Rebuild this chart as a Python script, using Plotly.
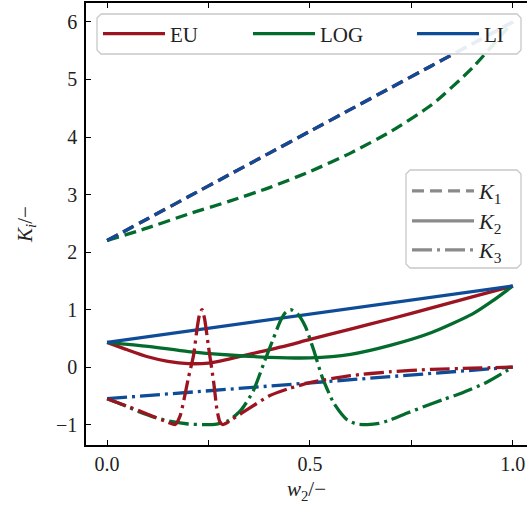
import plotly.graph_objects as go

# ---------------- data ----------------
# K1 (dashed)
x_k1 = [0.0, 0.1, 0.2, 0.3, 0.4, 0.5, 0.6, 0.7, 0.8, 0.9, 1.0]
eu_k1 = [2.2, 2.58, 2.96, 3.34, 3.72, 4.1, 4.48, 4.86, 5.24, 5.62, 6.0]
li_k1 = [2.2, 2.58, 2.96, 3.34, 3.72, 4.1, 4.48, 4.86, 5.24, 5.62, 6.0]
log_k1 = [2.2, 2.42, 2.66, 2.88, 3.12, 3.40, 3.72, 4.10, 4.56, 5.20, 6.0]

# K2 (solid)
x_eu_k2 = [0.0, 0.05, 0.1, 0.15, 0.2, 0.25, 0.3, 0.35, 0.43, 0.5, 0.6, 0.7, 0.8, 0.9, 1.0]
eu_k2 = [0.43, 0.30, 0.18, 0.10, 0.06, 0.07, 0.14, 0.22, 0.35, 0.48, 0.66, 0.84, 1.03, 1.22, 1.41]
x_log_k2 = [0.0, 0.1, 0.2, 0.3, 0.4, 0.5, 0.6, 0.7, 0.8, 0.9, 0.95, 1.0]
log_k2 = [0.43, 0.36, 0.27, 0.21, 0.17, 0.16, 0.22, 0.38, 0.60, 0.92, 1.15, 1.41]
x_li_k2 = [0.0, 1.0]
li_k2 = [0.43, 1.41]

# K3 (dash-dot)
x_eu_k3 = [0.0, 0.05, 0.1, 0.15, 0.168, 0.18, 0.19, 0.2, 0.213, 0.222, 0.228, 0.234,
           0.24, 0.25, 0.263, 0.271, 0.278, 0.285, 0.295, 0.31, 0.35, 0.4, 0.45,
           0.5, 0.6, 0.7, 0.8, 0.9, 1.0]
eu_k3 = [-0.55, -0.68, -0.82, -0.96, -1.0, -0.85, -0.55, -0.2, 0.2, 0.68, 0.92, 1.0,
         0.85, 0.35, -0.28, -0.75, -0.95, -1.0, -0.97, -0.9, -0.72, -0.5, -0.37,
         -0.27, -0.15, -0.08, -0.04, -0.02, 0.0]
x_log_k3 = [0.0, 0.04, 0.08, 0.12, 0.16, 0.2, 0.24, 0.27, 0.3, 0.33, 0.36, 0.386,
            0.41, 0.427, 0.44, 0.452, 0.47, 0.489, 0.509, 0.53, 0.559, 0.592, 0.615,
            0.641, 0.67, 0.698, 0.74, 0.78, 0.83, 0.871, 0.937, 1.0]
log_k3 = [-0.55, -0.66, -0.78, -0.88, -0.95, -0.99, -1.0, -0.99, -0.93, -0.75, -0.42, 0.06,
          0.5, 0.8, 0.95, 1.0, 0.92, 0.7, 0.3, -0.17, -0.63, -0.92, -0.99,
          -1.0, -0.98, -0.92, -0.8, -0.69, -0.56, -0.46, -0.26, 0.0]
x_li_k3 = [0.0, 1.0]
li_k3 = [-0.55, 0.0]

x_tickvals = [0.0, 0.25, 0.5, 0.75, 1.0]
x_ticktext = ["0.0", "", "0.5", "", "1.0"]
y_tickvals = [-1, 0, 1, 2, 3, 4, 5, 6]

# ---------------- style ----------------
RED = "#9b1420"
GREEN = "#036b2c"
BLUE = "#0f4c97"
GRAY = "#8a8a8a"
LW = 3.3
DASH = "12px,6px"
DASHDOT = "20px,5px,3px,5px"
FONT = "Liberation Serif"

XR = [-0.052, 1.035]
YR = [-1.355, 6.33]
L, T, W, H = 86, 3, 441, 442

def px_x(p):
    return (p - L) / W
def px_y(p):
    return 1 - (p - T) / H
def dx(p):  # pixel -> data x (for legend frame only)
    return XR[0] + px_x(p) * (XR[1] - XR[0])
def dy(p):  # pixel -> data y (for legend frame only)
    return YR[0] + px_y(p) * (YR[1] - YR[0])

fig = go.Figure()

def add(x, y, color, dash):
    fig.add_trace(go.Scatter(x=x, y=y, mode="lines", showlegend=False, hoverinfo="skip",
                             line=dict(color=color, width=LW, dash=dash, shape="spline", smoothing=0.6)))

# K1
add(x_k1, eu_k1, RED, DASH)
add(x_k1, log_k1, GREEN, DASH)
add(x_k1, li_k1, BLUE, DASH)
# K2
add(x_eu_k2, eu_k2, RED, "solid")
add(x_log_k2, log_k2, GREEN, "solid")
add(x_li_k2, li_k2, BLUE, "solid")
# K3
add(x_li_k3, li_k3, BLUE, DASHDOT)
add(x_log_k3, log_k3, GREEN, DASHDOT)
add(x_eu_k3, eu_k3, RED, DASHDOT)

# legend frames (drawn above the curves)
def frame(xa, xb, ya, yb, r=4):
    xs = [xa + r, xb - r, xb, xb, xb - r, xa + r, xa, xa, xa + r]
    ys = [ya, ya, ya + r, yb - r, yb, yb, yb - r, ya + r, ya]
    fig.add_trace(go.Scatter(x=[dx(v) for v in xs], y=[dy(v) for v in ys], mode="lines",
                             fill="toself", fillcolor="rgba(255,255,255,0.9)",
                             line=dict(color="#c8c8c8", width=1.3), showlegend=False,
                             hoverinfo="skip"))

frame(97, 521, 14, 54)
frame(406, 521, 170, 268)

# legend entries: one legend per entry, placed inside the frames
for name, color, lg in [("EU", RED, "legend"), ("LOG", GREEN, "legend3"), ("LI", BLUE, "legend4")]:
    fig.add_trace(go.Scatter(x=[None], y=[None], mode="lines", name=name,
                             line=dict(color=color, width=LW), legend=lg))
for name, dash, lg in [("<i>K</i><sub>1</sub>", DASH, "legend2"),
                       ("<i>K</i><sub>2</sub>", "solid", "legend5"),
                       ("<i>K</i><sub>3</sub>", DASHDOT, "legend6")]:
    fig.add_trace(go.Scatter(x=[None], y=[None], mode="lines", name=name,
                             line=dict(color=GRAY, width=LW, dash=dash), legend=lg))

axis_common = dict(showline=True, linecolor="black", linewidth=1.5, ticks="inside",
                   ticklen=5, tickwidth=1.3, tickcolor="black", showgrid=False,
                   zeroline=False, tickfont=dict(family=FONT, size=20, color="#222"))

def item_legend(xpx, ypx, size=21):
    return dict(orientation="h", x=px_x(xpx), y=px_y(ypx), xanchor="left", yanchor="middle",
                bgcolor="rgba(0,0,0,0)", borderwidth=0,
                font=dict(family=FONT, size=size, color="#222"), itemwidth=62)

fig.update_layout(
    width=527, height=510,
    margin=dict(l=L, r=0, t=T, b=65),
    paper_bgcolor="white", plot_bgcolor="white",
    font=dict(family=FONT, size=20, color="#222"),
    xaxis=dict(range=XR, tickvals=x_tickvals, ticktext=x_ticktext,
               mirror="ticks", title=dict(text="<i>w</i><sub>2</sub>/−", standoff=8,
                                           font=dict(family=FONT, size=21)),
               **axis_common),
    yaxis=dict(range=YR, tickvals=y_tickvals, ticklabelstandoff=3,
               title=dict(text="<i>K</i><sub><i>i</i></sub>/−", standoff=18,
                          font=dict(family=FONT, size=21)),
               **axis_common),
    legend=item_legend(98, 34),
    legend3=item_legend(248, 34),
    legend4=item_legend(412, 34),
    legend2=item_legend(407, 191, 22),
    legend5=item_legend(407, 221, 22),
    legend6=item_legend(407, 250, 22),
)

fig.write_html("out.html")
